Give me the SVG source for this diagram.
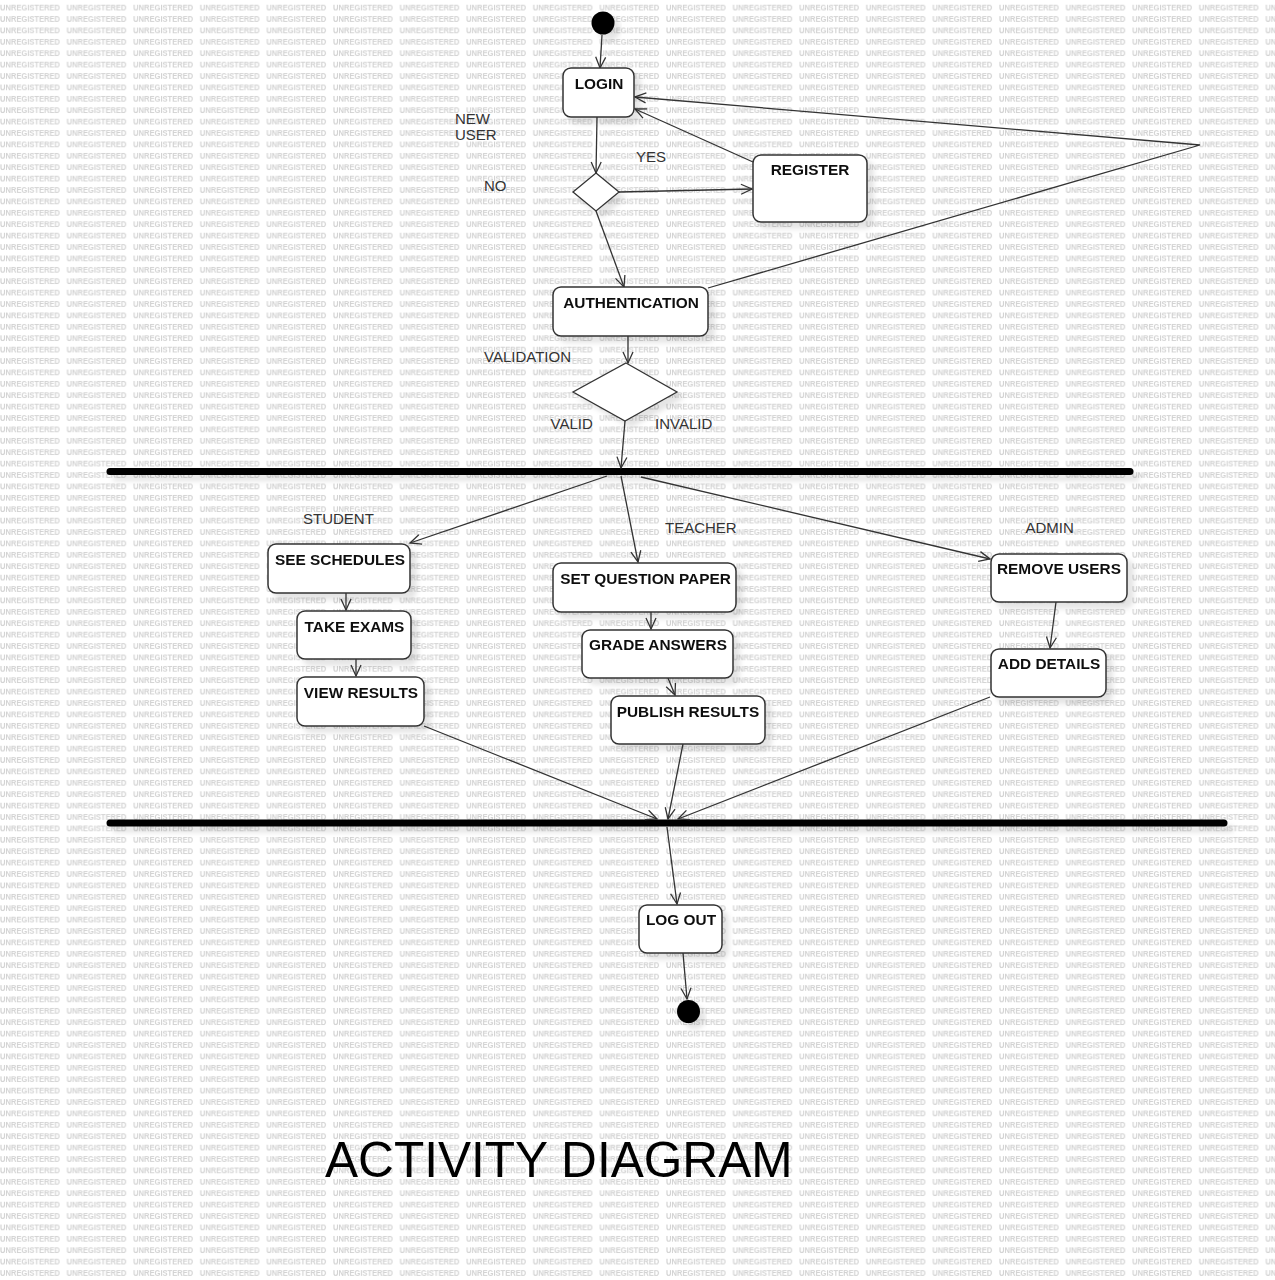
<svg xmlns="http://www.w3.org/2000/svg" width="1275" height="1280" viewBox="0 0 1275 1280">
<style>
.node rect{fill:#fff;stroke:#333;stroke-width:1.5}
.node polygon{fill:#fff;stroke:#333;stroke-width:1.3}
.nt{font-family:"Liberation Sans",Arial,sans-serif;font-weight:bold;font-size:15.4px;fill:#111;text-anchor:middle}
.lbl{font-family:"Liberation Sans",Arial,sans-serif;font-size:15px;fill:#333}
.con path{fill:none;stroke:#333;stroke-width:1.3;marker-end:url(#arr)}
.bar{stroke:#000;stroke-width:7;stroke-linecap:round}
.sh{filter:url(#shadow)}
</style>
<defs>
<pattern id="wm" patternUnits="userSpaceOnUse" x="0" y="0" width="66.6" height="11.4">
<text x="0" y="10.9" font-family="Liberation Sans,Arial,sans-serif" font-weight="bold" font-size="8" fill="#d2d2d2" textLength="60" lengthAdjust="spacingAndGlyphs">UNREGISTERED</text>
</pattern>
<filter id="shadow" x="-20%" y="-20%" width="150%" height="160%">
<feDropShadow dx="6" dy="6" stdDeviation="2.5" flood-color="#000" flood-opacity="0.10"/>
</filter>
<marker id="arr" markerUnits="userSpaceOnUse" markerWidth="14" markerHeight="14" refX="12" refY="6" orient="auto">
<path d="M1,1 L12,6 L1,11" fill="none" stroke="#333" stroke-width="1.3"/>
</marker>
</defs>
<rect x="0" y="0" width="1275" height="1280" fill="#fff"/>
<rect x="0" y="0" width="1275" height="1280" fill="url(#wm)"/>

<g id="start" class="sh"><circle cx="603" cy="23" r="11.5" fill="#000"/></g>

<g id="bars" class="sh">
<line class="bar" x1="110" y1="471.5" x2="1130" y2="471.5"/>
<line class="bar" x1="110" y1="823" x2="1224" y2="823"/>
</g>

<g id="connectors" class="con">
<path d="M602,35 L600,68"/>
<path d="M597,117 L596,173"/>
<path d="M619,192 L752,189"/>
<path d="M753,162 L635,109"/>
<path d="M708,288 L1200,145 L635,97"/>
<path d="M596,211 L624,287"/>
<path d="M628,336 L628,363"/>
<path d="M625,421 L621,468"/>
<path d="M607,476 L410,543"/>
<path d="M621,476 L638,562"/>
<path d="M641,477 L990,559"/>
<path d="M346,593 L346,610"/>
<path d="M356,659 L356,676"/>
<path d="M651,612 L651,629"/>
<path d="M668,678 L675,695"/>
<path d="M1056,602 L1050,648"/>
<path d="M424,726 L657,819"/>
<path d="M683,744 L668,819"/>
<path d="M990,697 L678,819"/>
<path d="M667,827 L677,904"/>
<path d="M683,953 L687,999"/>
</g>

<g id="login" class="node sh"><rect x="563" y="68" width="71" height="49" rx="8"/><text class="nt" x="599" y="89">LOGIN</text></g>
<g id="decision1" class="node sh"><polygon points="596,173 619,192 596,211 573,192"/></g>
<g id="register" class="node sh"><rect x="753" y="155" width="114" height="67" rx="8"/><text class="nt" x="810" y="175">REGISTER</text></g>
<g id="authentication" class="node sh"><rect x="553" y="287" width="155" height="49" rx="8"/><text class="nt" x="631" y="308">AUTHENTICATION</text></g>
<g id="decision2" class="node sh"><polygon points="626,363 677,392 625,421 573,392"/></g>

<g id="see-schedules" class="node sh"><rect x="268" y="544" width="142" height="49" rx="8"/><text class="nt" x="340" y="565">SEE SCHEDULES</text></g>
<g id="take-exams" class="node sh"><rect x="297" y="611" width="114" height="48" rx="8"/><text class="nt" x="354.5" y="631.5">TAKE EXAMS</text></g>
<g id="view-results" class="node sh"><rect x="297" y="677" width="127" height="49" rx="8"/><text class="nt" x="361" y="698">VIEW RESULTS</text></g>

<g id="set-question-paper" class="node sh"><rect x="553" y="563" width="183" height="49" rx="8"/><text class="nt" x="645.5" y="584">SET QUESTION PAPER</text></g>
<g id="grade-answers" class="node sh"><rect x="582" y="630" width="151" height="48" rx="8"/><text class="nt" x="658" y="650">GRADE ANSWERS</text></g>
<g id="publish-results" class="node sh"><rect x="611" y="696" width="154" height="48" rx="8"/><text class="nt" x="688" y="716.5">PUBLISH RESULTS</text></g>

<g id="remove-users" class="node sh"><rect x="991" y="554" width="136" height="48" rx="8"/><text class="nt" x="1059" y="574">REMOVE USERS</text></g>
<g id="add-details" class="node sh"><rect x="991" y="649" width="115" height="48" rx="8"/><text class="nt" x="1049" y="669">ADD DETAILS</text></g>

<g id="logout" class="node sh"><rect x="639" y="905" width="83" height="48" rx="8"/><text class="nt" x="681" y="925">LOG OUT</text></g>
<g id="end" class="sh"><circle cx="688.5" cy="1011.5" r="11.5" fill="#000"/></g>

<g id="labels">
<text class="lbl" x="455" y="124">NEW</text>
<text class="lbl" x="455" y="140">USER</text>
<text class="lbl" x="636" y="162">YES</text>
<text class="lbl" x="484" y="191">NO</text>
<text class="lbl" x="484" y="362">VALIDATION</text>
<text class="lbl" x="550.5" y="428.5">VALID</text>
<text class="lbl" x="655" y="428.5">INVALID</text>
<text class="lbl" x="303" y="523.5">STUDENT</text>
<text class="lbl" x="665" y="533">TEACHER</text>
<text class="lbl" x="1025.5" y="533">ADMIN</text>
</g>

<text id="title" x="325" y="1177" font-family="Liberation Sans,Arial,sans-serif" font-size="49.6" fill="#000">ACTIVITY DIAGRAM</text>
</svg>
